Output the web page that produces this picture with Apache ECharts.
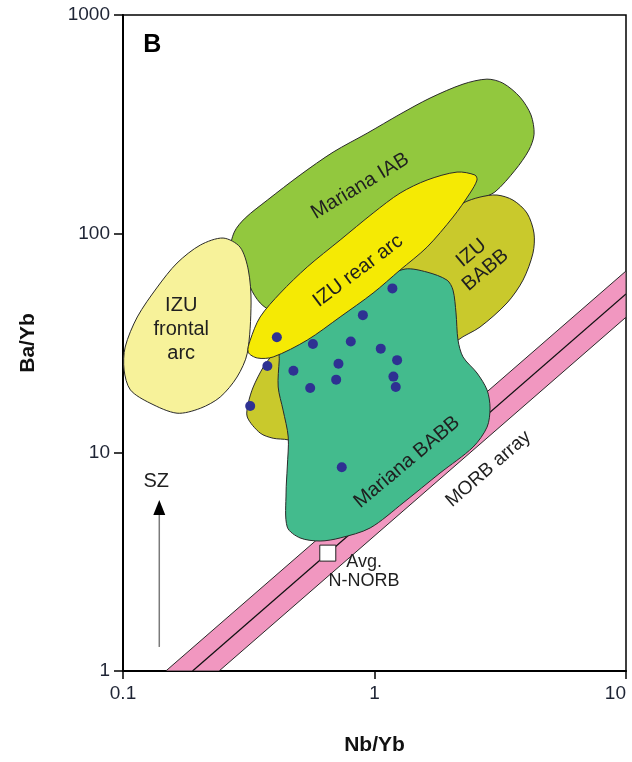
<!DOCTYPE html>
<html>
<head>
<meta charset="utf-8">
<script src="https://cdn.jsdelivr.net/npm/echarts@6/dist/echarts.min.js"></script>
<style>
html, body { margin: 0; padding: 0; background: #fff; }
#chart { width: 632px; height: 762px; }
</style>
</head>
<body>
<div id="chart"></div>
<script>
// Ba/Yb vs Nb/Yb discrimination diagram (log-log)

// Field outlines, as [Nb/Yb, Ba/Yb] pairs
const morbUpper = [[0.148, 1], [10, 67.5]];
const morbCenter = [[0.189, 1], [10, 53]];
const morbLower = [[10, 41.5], [0.241, 1]];

const marianaIAB = [
  [0.269, 84.1], [0.277, 101.7], [0.306, 117.8], [0.375, 142.4], [0.506, 185.4],
  [0.685, 236], [0.935, 288], [1.264, 352], [1.663, 417], [2.25, 483], [2.80, 509],
  [3.24, 488], [3.79, 421], [4.19, 349], [4.31, 285], [4.11, 241], [3.62, 195],
  [3.01, 155], [2.58, 142.4], [1.82, 103.9], [1.053, 71.8], [0.608, 52.4],
  [0.441, 43.4], [0.396, 43.8], [0.351, 48.2], [0.3205, 57.0], [0.301, 75.7]
];

const izuFrontalArc = [
  [0.250, 95.5], [0.292, 86.8], [0.315, 68.2], [0.323, 48.2], [0.312, 28.4],
  [0.284, 22.1], [0.2435, 17.9], [0.203, 15.9], [0.164, 15.1], [0.128, 16.8],
  [0.107, 19.3], [0.101, 23.8], [0.102, 30.3], [0.114, 41.6], [0.137, 57.0],
  [0.164, 73.4], [0.203, 88.7]
];

const izuBABB = [
  [2.109, 128.2], [2.249, 138.0], [2.627, 147.0], [3.069, 150.2], [3.553, 142.4],
  [4.040, 124.2], [4.306, 100.6], [4.267, 81.5], [3.894, 61.3], [3.364, 48.2],
  [2.627, 37.4], [2.148, 32.6], [1.822, 26.4], [1.518, 17.3], [1.053, 12.65],
  [0.506, 10.8], [0.454, 11.4], [0.3955, 11.6], [0.351, 12.25], [0.312, 14.5],
  [0.315, 16.8], [0.3295, 19.9], [0.361, 24.5], [0.392, 27.9], [0.462, 36.2],
  [0.730, 55.2], [1.264, 84.1], [1.822, 113.0]
];

const marianaBABB = [
  [0.422, 30.9], [0.418, 26.4], [0.414, 19.9], [0.433, 15.6], [0.454, 11.75],
  [0.450, 8.57], [0.445, 6.52], [0.450, 4.55], [0.506, 4.06], [0.608, 3.93],
  [0.730, 4.06], [0.961, 4.51], [1.299, 5.87], [1.822, 8.04], [2.465, 10.57],
  [2.803, 13.05], [2.880, 15.94], [2.803, 19.27], [2.556, 23.05], [2.249, 27.3],
  [2.148, 32.6], [2.109, 43.4], [2.052, 55.2], [1.943, 61.3], [1.618, 66.7],
  [1.323, 68.9], [1.053, 61.3], [0.730, 47.2], [0.506, 36.2]
];

const izuRearArc = [
  [2.509, 185.4], [2.129, 191.3], [1.618, 175.9], [1.264, 153.3], [0.987, 124.2],
  [0.730, 93.5], [0.540, 70.4], [0.422, 53.5], [0.351, 41.6], [0.3205, 32.6],
  [0.3146, 28.7], [0.342, 27.0], [0.3955, 27.3], [0.540, 32.6], [0.730, 41.6],
  [0.987, 53.5], [1.264, 68.2], [1.618, 86.8], [2.052, 119.1], [2.398, 153.3],
  [2.556, 175.9]
];

// Samples
const sampleNbYb = [1.178, 0.899, 0.409, 0.569, 0.805, 1.059, 1.230, 0.375,
  0.476, 0.719, 0.704, 1.189, 1.215, 0.555, 0.3205, 0.741];
const sampleBaYb = [56.2, 42.4, 33.6, 31.3, 32.1, 29.8, 26.4, 24.8,
  23.6, 25.4, 21.5, 22.2, 19.9, 19.7, 16.3, 8.54];

// Average N-MORB
const nmorbNbYb = [0.652];
const nmorbBaYb = [3.46];

// Text annotations
const labelText = ['Mariana IAB', 'IZU rear arc', 'IZU\nBABB', 'IZU\nfrontal\narc',
  'Mariana BABB', 'MORB array', 'Avg.\nN-NORB', 'SZ', 'B'];
const labelNbYb = [0.877, 0.861, 2.59, 0.1704, 1.347, 2.835, 0.909, 0.1356, 0.1308];
const labelBaYb = [165, 67.5, 74.5, 36.6, 9.03, 8.39, 2.84, 7.39, 732];

// Subduction-zone enrichment arrow
const arrowNbYb = [0.1394, 0.1394];
const arrowBaYb = [1.288, 6.05];

const xTickValues = [0.1, 1, 10];
const yTickValues = [1, 10, 100, 1000];

const FONT = '"Liberation Sans", Arial, Helvetica, sans-serif';
const labelRotation = [31, 37, 40, 0, 40, 41, 0, 0, 0];
const labelFont = [20, 20, 20, 20, 20, 19, 18, 20, 25];
const labelWeight = ['normal', 'normal', 'normal', 'normal', 'normal', 'normal', 'normal', 'normal', 'bold'];
const labelLineHeight = [22, 22, 22, 24, 22, 22, 19, 22, 26];

function fieldSeries(name, pts, color, smooth, z) {
  return {
    type: 'custom',
    name: name,
    coordinateSystem: 'cartesian2d',
    silent: true,
    clip: true,
    z: z,
    data: [pts[0]],
    renderItem: function (params, api) {
      return {
        type: 'polygon',
        shape: { points: pts.map(function (p) { return api.coord(p); }), smooth: smooth },
        style: { fill: color, stroke: '#2a2a2a', lineWidth: 1 }
      };
    }
  };
}

const chart = echarts.init(document.getElementById('chart'), null, { renderer: 'canvas' });

const option = {
  backgroundColor: '#ffffff',
  animation: false,
  grid: {
    left: 123, right: 6, top: 15, bottom: 91,
    outerBoundsMode: 'none', containLabel: false,
    show: true, borderColor: '#000', borderWidth: 1.5, backgroundColor: 'transparent'
  },
  xAxis: {
    type: 'log', logBase: 10, min: xTickValues[0], max: xTickValues[xTickValues.length - 1],
    name: 'Nb/Yb', nameLocation: 'middle', nameGap: 64,
    nameTextStyle: { fontFamily: FONT, fontWeight: 'bold', fontSize: 21, color: '#111' },
    axisLine: { show: true, onZero: false, lineStyle: { color: '#000', width: 2 } },
    axisTick: { show: true, length: 8, lineStyle: { color: '#000', width: 1.5 } },
    axisLabel: { fontFamily: FONT, fontSize: 19, color: '#1e2434', margin: 13,
      alignMaxLabel: 'right',
      formatter: function (v) { return String(+v.toPrecision(3)); } },
    splitLine: { show: false }, minorTick: { show: false }
  },
  yAxis: {
    type: 'log', logBase: 10, min: yTickValues[0], max: yTickValues[yTickValues.length - 1],
    name: 'Ba/Yb', nameLocation: 'middle', nameGap: 84, nameRotate: 90,
    nameTextStyle: { fontFamily: FONT, fontWeight: 'bold', fontSize: 21, color: '#111' },
    axisLine: { show: true, onZero: false, lineStyle: { color: '#000', width: 2 } },
    axisTick: { show: true, length: 9, lineStyle: { color: '#000', width: 1.5 } },
    axisLabel: { fontFamily: FONT, fontSize: 19, color: '#1e2434', margin: 13,
      formatter: function (v) { return String(+v.toPrecision(4)); } },
    splitLine: { show: false }, minorTick: { show: false }
  },
  series: [
    // MORB array band with its centre line
    {
      type: 'custom', name: 'MORB array', coordinateSystem: 'cartesian2d', silent: true, clip: true, z: 1,
      data: [morbCenter[0]],
      renderItem: function (params, api) {
        const band = morbUpper.concat(morbLower).map(function (p) { return api.coord(p); });
        const mid = morbCenter.map(function (p) { return api.coord(p); });
        return {
          type: 'group',
          children: [
            { type: 'polygon', shape: { points: band }, style: { fill: '#f197c0', stroke: '#2a2a2a', lineWidth: 1 } },
            { type: 'polyline', shape: { points: mid }, style: { fill: null, stroke: '#111', lineWidth: 1.3 } }
          ]
        };
      }
    },
    fieldSeries('Mariana IAB', marianaIAB, '#92c83e', 0.3, 2),
    fieldSeries('IZU frontal arc', izuFrontalArc, '#f7f29a', 0.3, 3),
    fieldSeries('IZU BABB', izuBABB, '#c9c92c', 0.3, 4),
    fieldSeries('Mariana BABB', marianaBABB, '#43bb8d', 0.3, 5),
    fieldSeries('IZU rear arc', izuRearArc, '#f5ea04', 0.3, 6),
    // SZ arrow
    {
      type: 'custom', name: 'SZ arrow', coordinateSystem: 'cartesian2d', silent: true, z: 7,
      data: [[arrowNbYb[0], arrowBaYb[0]]],
      renderItem: function (params, api) {
        const a = api.coord([arrowNbYb[0], arrowBaYb[0]]);
        const b = api.coord([arrowNbYb[1], arrowBaYb[1]]);
        return {
          type: 'group',
          children: [
            { type: 'line', shape: { x1: a[0], y1: a[1], x2: b[0], y2: b[1] + 12 },
              style: { stroke: '#7a7a7a', lineWidth: 1.5 } },
            { type: 'polygon', shape: { points: [[b[0], b[1]], [b[0] - 6, b[1] + 15], [b[0] + 6, b[1] + 15]] },
              style: { fill: '#000' } }
          ]
        };
      }
    },
    {
      type: 'scatter', name: 'Samples', z: 8, silent: true,
      data: sampleNbYb.map(function (x, i) { return [x, sampleBaYb[i]]; }),
      symbol: 'circle', symbolSize: 10,
      itemStyle: { color: '#2e3192', borderWidth: 0, opacity: 1 }
    },
    {
      type: 'scatter', name: 'Avg. N-MORB', z: 9, silent: true,
      data: nmorbNbYb.map(function (x, i) { return [x, nmorbBaYb[i]]; }),
      symbol: 'rect', symbolSize: 16,
      itemStyle: { color: '#ffffff', borderColor: '#222', borderWidth: 1, opacity: 1 }
    },
    {
      type: 'custom', name: 'Labels', coordinateSystem: 'cartesian2d', silent: true, z: 10,
      data: labelNbYb.map(function (x, i) { return [x, labelBaYb[i]]; }),
      renderItem: function (params, api) {
        const i = params.dataIndex;
        const p = api.coord([labelNbYb[i], labelBaYb[i]]);
        return {
          type: 'text',
          x: p[0], y: p[1],
          rotation: labelRotation[i] * Math.PI / 180,
          style: {
            text: labelText[i],
            fontFamily: FONT,
            fontSize: labelFont[i],
            fontWeight: labelWeight[i],
            lineHeight: labelLineHeight[i],
            fill: i === 8 ? '#000' : '#1f1f1f',
            align: 'center',
            verticalAlign: 'middle'
          }
        };
      }
    }
  ]
};

chart.setOption(option);
</script>
</body>
</html>
